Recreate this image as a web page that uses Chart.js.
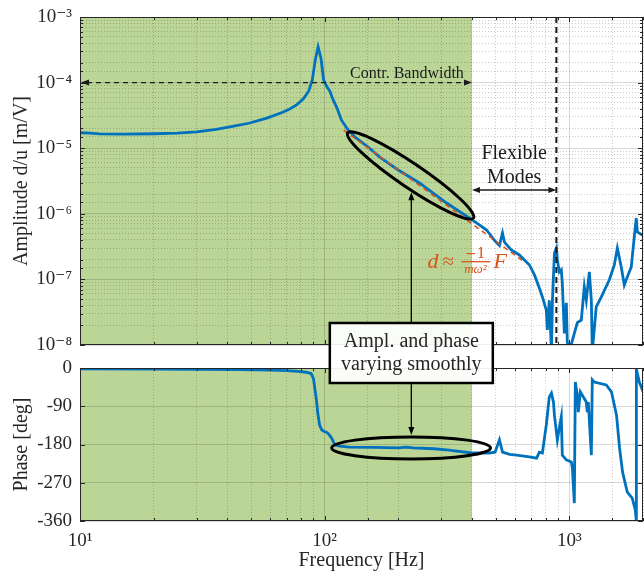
<!DOCTYPE html>
<html><head><meta charset="utf-8">
<script src="https://cdn.jsdelivr.net/npm/chart.js@4.4.1/dist/chart.umd.min.js"></script>
<style>
html,body{margin:0;padding:0;background:#fff;}
#wrap{position:relative;width:644px;height:571px;overflow:hidden;}
#boxA{position:absolute;left:0;top:0;width:644px;height:395px;z-index:2;}
#boxP{position:absolute;left:0;top:352px;width:644px;height:219px;z-index:1;}
</style></head><body>
<div id="wrap">
<div id="boxA"><canvas id="cAmp" width="644" height="395"></canvas></div>
<div id="boxP"><canvas id="cPh" width="644" height="219"></canvas></div>
</div>
<script>
// ---------------- data ----------------
const ampFreq = [10, 11, 12, 15, 20, 25, 30, 36, 42, 49, 58, 67, 72, 77, 82, 86, 89, 91.5, 94, 96.5, 99, 102, 105, 108, 112, 117, 124, 133, 150, 168, 199, 244, 315, 391, 420, 459, 497, 518, 533, 543, 580, 625, 687, 720, 754, 776, 805, 813, 828, 845, 853, 869, 885, 893, 910, 927, 936, 954, 972, 981, 1000, 1048, 1078, 1119, 1151, 1173, 1207, 1230, 1241, 1288, 1351, 1456, 1527, 1571, 1630, 1677, 1725, 1791, 1842, 1877, 1895, 2000];
const ampValue = [1.72e-5, 1.70e-5, 1.65e-5, 1.64e-5, 1.66e-5, 1.70e-5, 1.77e-5, 1.93e-5, 2.15e-5, 2.40e-5, 2.88e-5, 3.5e-5, 3.95e-5, 4.6e-5, 5.7e-5, 7.4e-5, 1.1e-4, 2.2e-4, 3.5e-4, 2.4e-4, 1.1e-4, 8.7e-5, 7.4e-5, 5.6e-5, 4.2e-5, 2.7e-5, 1.95e-5, 1.48e-5, 1.05e-5, 7.3e-6, 4.7e-6, 2.95e-6, 1.46e-6, 8.6e-7, 7.15e-7, 5.66e-7, 3.85e-7, 3.3e-7, 5.1e-7, 3.7e-7, 2.8e-7, 2.36e-7, 1.66e-7, 1.17e-7, 7.4e-8, 5.4e-8, 3.4e-8, 1.7e-8, 4.8e-8, 8e-9, 4.8e-8, 2.5e-7, 3.0e-7, 2.0e-7, 1.3e-7, 1.4e-7, 8.8e-8, 1.5e-8, 4.4e-8, 1.1e-8, 8e-9, 1.5e-8, 2.2e-8, 2.4e-8, 7.7e-8, 4.8e-8, 1.3e-7, 4.8e-8, 8e-9, 3.8e-8, 5.4e-8, 9.8e-8, 1.66e-7, 3.0e-7, 1.55e-7, 8.2e-8, 1.09e-7, 1.55e-7, 4.4e-7, 8.6e-7, 5.3e-7, 4.7e-7];

const phaseFreq = [10, 20, 30, 45, 60, 70, 78, 84, 88, 90, 91, 92.5, 93.7, 95.3, 97.3, 100, 101.8, 104, 106.8, 110, 115, 126, 160, 200, 215, 230, 280, 322, 400, 470, 497, 518, 533, 570, 608, 687, 735, 754, 776, 805, 828, 845, 861, 869, 893, 910, 927, 936, 972, 1019, 1029, 1048, 1058, 1078, 1088, 1109, 1130, 1173, 1184, 1195, 1230, 1241, 1263, 1416, 1486, 1559, 1604, 1650, 1725, 1807, 1860, 1877, 1879, 1932, 2000];
const phaseValue = [-2, -2.5, -3, -4, -5, -6, -8, -10, -13, -25, -45, -75, -106, -134, -146, -150, -151, -156, -165, -181, -184, -186, -187, -188, -186, -188, -190, -193, -200, -200, -198, -169, -198, -203, -205, -209, -212, -198, -200, -134, -68, -59, -80, -111, -169, -141, -115, -205, -216, -221, -235, -318, -33, -64, -104, -56, -64, -80, -104, -80, -205, -28, -33, -40, -56, -111, -188, -245, -292, -306, -334, -358, -2, -33, -55];

// asymptote d ~ -1/(m w^2) F  (two end points)
const asymFreq = [119.6, 655];
const asymValue = [1.89e-5, 1.84e-7];

// axis ranges / ticks
const freqRange = [10, 2000];
const ampRange = [1e-8, 1e-3];
const phaseRange = [-360, 0];
const phaseStep = 90;

// annotation anchors (data coordinates)
const bandwidthHz = 400;
const flexModeHz = 885;
const bandwidthArrowAmp = 1e-4;
const flexArrowAmp = 2.3e-6;
const ampEllipseTips = [[124.2, 1.71e-5], [405.6, 8.63e-7]];
const phaseEllipseTips = [[106.8, -188], [476, -188]];
const pointerHz = 226;
const formulaAnchor = [263, 1.49e-7];

// ---------------- styling helpers ----------------
const SERIF = '"Liberation Serif", "DejaVu Serif", serif';
const BLUE = '#0072BD', ORANGE = '#D95319', GREEN = '#BBD597', INK = '#262626';
const MAJOR_GRID = 'rgba(0,0,0,0.15)', MINOR_GRID = 'rgba(0,0,0,0.2)';
const SUP = {'-':'\u207B','0':'\u2070','1':'\u00B9','2':'\u00B2','3':'\u00B3','4':'\u2074','5':'\u2075','6':'\u2076','7':'\u2077','8':'\u2078','9':'\u2079'};
function isDecade(v){ const l = Math.log10(v); return Math.abs(l - Math.round(l)) < 1e-6; }
function decadeLabel(v){ const e = Math.round(Math.log10(v)); return '10' + String(e).split('').map(c => SUP[c]).join(''); }
const majorColor = c => (c.tick && isDecade(c.tick.value)) ? MAJOR_GRID : 'rgba(0,0,0,0)';
const minorColor = c => (c.tick && !isDecade(c.tick.value)) ? MINOR_GRID : 'rgba(0,0,0,0)';
function noPad(s){ s.paddingLeft = 0; s.paddingRight = 0; s.paddingTop = 0; s.paddingBottom = 0; }

function arrowHead(ctx, x, y, ang, len, w){
  ctx.save(); ctx.translate(x, y); ctx.rotate(ang);
  ctx.beginPath(); ctx.moveTo(0, 0); ctx.lineTo(-len, -w/2); ctx.lineTo(-len, w/2); ctx.closePath(); ctx.fill();
  ctx.restore();
}
function ellipseGeom(p1, p2, b){
  const cx = (p1.x + p2.x)/2, cy = (p1.y + p2.y)/2;
  const a = Math.hypot(p2.x - p1.x, p2.y - p1.y)/2;
  const th = Math.atan2(p2.y - p1.y, p2.x - p1.x);
  return {cx, cy, a, b, th};
}
function ellipseYAt(g, x, lower){
  const dx = x - g.cx, c = Math.cos(g.th), s = Math.sin(g.th);
  const A = s*s/(g.a*g.a) + c*c/(g.b*g.b);
  const B = 2*dx*c*s*(1/(g.a*g.a) - 1/(g.b*g.b));
  const C = dx*dx*(c*c/(g.a*g.a) + s*s/(g.b*g.b)) - 1;
  const d = Math.sqrt(Math.max(0, B*B - 4*A*C));
  return g.cy + (lower ? (-B + d) : (-B - d))/(2*A);
}
function drawEllipse(ctx, g){
  ctx.beginPath(); ctx.ellipse(g.cx, g.cy, g.a, g.b, g.th, 0, 2*Math.PI); ctx.stroke();
}

const greenPlugin = {
  id: 'greenZone',
  beforeDraw(chart){
    const {ctx, chartArea: a, scales: {x}} = chart;
    const xr = x.getPixelForValue(bandwidthHz);
    ctx.save(); ctx.fillStyle = GREEN; ctx.fillRect(a.left, a.top, xr - a.left, a.bottom - a.top); ctx.restore();
  }
};
const framePlugin = {
  id: 'frameTicks',
  afterDatasetsDraw(chart){
    const {ctx, chartArea: a, scales: {x, y}} = chart;
    ctx.save(); ctx.strokeStyle = INK; ctx.lineWidth = 1; ctx.beginPath();
    x.ticks.forEach(t => {
      const px = Math.round(x.getPixelForValue(t.value)) + 0.5;
      const len = isDecade(t.value) ? 5 : 3;
      ctx.moveTo(px, a.bottom); ctx.lineTo(px, a.bottom - len);
      ctx.moveTo(px, a.top); ctx.lineTo(px, a.top + len);
    });
    y.ticks.forEach(t => {
      const py = Math.round(y.getPixelForValue(t.value)) + 0.5;
      const len = (y.type === 'logarithmic' && !isDecade(t.value)) ? 3 : 5;
      ctx.moveTo(a.left, py); ctx.lineTo(a.left + len, py);
      ctx.moveTo(a.right, py); ctx.lineTo(a.right - len, py);
    });
    ctx.stroke();
    ctx.strokeRect(a.left + 0.5, a.top + 0.5, a.right - a.left - 1, a.bottom - a.top - 1);
    ctx.restore();
  }
};

const ampAnno = {
  id: 'ampAnno',
  afterDatasetsDraw(chart){
    const {ctx, chartArea: a, scales: {x, y}} = chart;
    ctx.save();
    ctx.strokeStyle = '#1a1a1a'; ctx.fillStyle = '#1a1a1a';
    // flexible mode limit line
    const xf = x.getPixelForValue(flexModeHz);
    ctx.lineWidth = 2; ctx.setLineDash([6, 4]);
    ctx.beginPath(); ctx.moveTo(xf, a.top); ctx.lineTo(xf, a.bottom); ctx.stroke();
    // bandwidth arrow
    const xb = x.getPixelForValue(bandwidthHz), yb = y.getPixelForValue(bandwidthArrowAmp);
    ctx.lineWidth = 1.4; ctx.setLineDash([5, 4]);
    ctx.beginPath(); ctx.moveTo(a.left + 7, yb); ctx.lineTo(xb - 7, yb); ctx.stroke();
    ctx.setLineDash([]);
    arrowHead(ctx, a.left + 1, yb, Math.PI, 8, 6);
    arrowHead(ctx, xb, yb, 0, 8, 6);
    ctx.font = '16px ' + SERIF; ctx.textAlign = 'center'; ctx.textBaseline = 'alphabetic';
    ctx.fillText('Contr. Bandwidth', xb - 65, yb - 5);
    // flexible modes arrow
    const yfm = y.getPixelForValue(flexArrowAmp);
    ctx.lineWidth = 1.4;
    ctx.beginPath(); ctx.moveTo(xb + 6, yfm); ctx.lineTo(xf - 6, yfm); ctx.stroke();
    arrowHead(ctx, xb, yfm, Math.PI, 8, 6);
    arrowHead(ctx, xf, yfm, 0, 8, 6);
    ctx.font = '20px ' + SERIF;
    ctx.fillText('Flexible', (xb + xf)/2, yfm - 31);
    ctx.fillText('Modes', (xb + xf)/2, yfm - 7);
    // formula
    const fx = x.getPixelForValue(formulaAnchor[0]), fy = y.getPixelForValue(formulaAnchor[1]);
    ctx.fillStyle = ORANGE; ctx.textAlign = 'left';
    ctx.font = 'italic 22px ' + SERIF; ctx.fillText('d', fx, fy);
    ctx.font = '21px ' + SERIF; ctx.fillText('\u2248', fx + 15, fy);
    ctx.fillRect(fx + 34, fy - 7, 29, 1.3);
    ctx.textAlign = 'center';
    ctx.font = '14px "DejaVu Serif", serif'; ctx.fillText('\u22121', fx + 48, fy - 10);
    ctx.font = 'italic 13px ' + SERIF; ctx.fillText('m\u03C9\u00B2', fx + 48, fy + 5);
    ctx.textAlign = 'left'; ctx.font = 'italic 22px ' + SERIF; ctx.fillText('F', fx + 66, fy);
    // ellipse
    ctx.strokeStyle = '#000'; ctx.fillStyle = '#000'; ctx.lineWidth = 3;
    const p1 = {x: x.getPixelForValue(ampEllipseTips[0][0]), y: y.getPixelForValue(ampEllipseTips[0][1])};
    const p2 = {x: x.getPixelForValue(ampEllipseTips[1][0]), y: y.getPixelForValue(ampEllipseTips[1][1])};
    const g = ellipseGeom(p1, p2, 12);
    drawEllipse(ctx, g);
    // pointer arrow + box
    const xa = x.getPixelForValue(pointerHz);
    const yEnd = ellipseYAt(g, xa, true) + 2;
    const boxTop = a.bottom - 22, boxBot = a.bottom + 38, boxW = 163;
    ctx.lineWidth = 1.3;
    ctx.beginPath(); ctx.moveTo(xa, boxTop); ctx.lineTo(xa, yEnd + 7); ctx.stroke();
    arrowHead(ctx, xa, yEnd, -Math.PI/2, 8, 6);
    ctx.fillStyle = 'rgba(255,255,255,0.93)';
    ctx.fillRect(xa - boxW/2, boxTop, boxW, boxBot - boxTop);
    ctx.lineWidth = 2.5; ctx.strokeStyle = '#000';
    ctx.strokeRect(xa - boxW/2, boxTop, boxW, boxBot - boxTop);
    ctx.fillStyle = INK; ctx.textAlign = 'center'; ctx.font = '20px ' + SERIF;
    ctx.fillText('Ampl. and phase', xa, boxTop + 24);
    ctx.fillText('varying smoothly', xa, boxTop + 47);
    ctx.restore();
  }
};

const phaseAnno = {
  id: 'phaseAnno',
  afterDatasetsDraw(chart){
    const {ctx, chartArea: a, scales: {x, y}} = chart;
    ctx.save();
    ctx.strokeStyle = '#000'; ctx.fillStyle = '#000'; ctx.lineWidth = 3;
    const p1 = {x: x.getPixelForValue(phaseEllipseTips[0][0]), y: y.getPixelForValue(phaseEllipseTips[0][1])};
    const p2 = {x: x.getPixelForValue(phaseEllipseTips[1][0]), y: y.getPixelForValue(phaseEllipseTips[1][1])};
    const g = ellipseGeom(p1, p2, 11);
    drawEllipse(ctx, g);
    const xa = x.getPixelForValue(pointerHz);
    const yEnd = ellipseYAt(g, xa, false) - 2;
    const boxBot = 383 - 352;
    ctx.lineWidth = 1.3;
    ctx.beginPath(); ctx.moveTo(xa, boxBot); ctx.lineTo(xa, yEnd - 7); ctx.stroke();
    arrowHead(ctx, xa, yEnd, Math.PI/2, 8, 6);
    ctx.restore();
  }
};

function logX(showLabels){
  return {
    type: 'logarithmic', position: 'bottom', min: freqRange[0], max: freqRange[1],
    ticks: showLabels ? {autoSkip: false, maxRotation: 0, padding: 9, color: INK, font: {family: SERIF, size: 19},
      callback: v => isDecade(v) ? decadeLabel(v) : ''} : {display: false},
    grid: {color: majorColor, drawTicks: false, lineWidth: 1},
    border: {display: false},
    title: showLabels ? {display: true, text: 'Frequency [Hz]', color: INK, font: {family: SERIF, size: 20}, padding: {top: 0, bottom: -2}} : {display: false},
    afterFit(s){ s.height = showLabels ? 50 : 0; noPad(s); }
  };
}
function logXMinor(){
  return {
    type: 'logarithmic', position: 'bottom', min: freqRange[0], max: freqRange[1],
    ticks: {display: false}, grid: {color: minorColor, drawTicks: false, lineWidth: 1},
    border: {display: false, dash: [1, 2]}, afterFit(s){ s.height = 0; noPad(s); }
  };
}

const xy = (xs, ys) => xs.map((v, i) => ({x: v, y: ys[i]}));

new Chart(document.getElementById('cAmp'), {
  type: 'line',
  data: {datasets: [
    {label: 'asymptote', data: xy(asymFreq, asymValue), borderColor: ORANGE, borderWidth: 1.6, borderDash: [5, 4], pointRadius: 0, order: 0, xAxisID: 'x', yAxisID: 'y'},
    {label: 'amplitude', data: xy(ampFreq, ampValue), borderColor: BLUE, borderWidth: 2.8, pointRadius: 0, tension: 0, order: 1, xAxisID: 'x', yAxisID: 'y'}
  ]},
  options: {
    responsive: false, animation: false, devicePixelRatio: 1,
    layout: {padding: {top: 17, right: 1, bottom: 50, left: 0}},
    plugins: {legend: {display: false}, tooltip: {enabled: false}},
    scales: {
      x: logX(false),
      xm: logXMinor(),
      y: {type: 'logarithmic', position: 'left', min: ampRange[0], max: ampRange[1],
        ticks: {autoSkip: false, padding: 8, color: INK, font: {family: SERIF, size: 19}, callback: v => isDecade(v) ? decadeLabel(v) : ''},
        grid: {color: majorColor, drawTicks: false}, border: {display: false},
        title: {display: true, text: 'Amplitude d/u [m/V]', color: INK, font: {family: SERIF, size: 20}, padding: {top: 10, bottom: 0}},
        afterFit(s){ s.width = 80; noPad(s); }},
      ym: {type: 'logarithmic', position: 'left', min: ampRange[0], max: ampRange[1],
        ticks: {display: false}, grid: {color: minorColor, drawTicks: false}, border: {display: false, dash: [1, 2]},
        afterFit(s){ s.width = 0; noPad(s); }}
    }
  },
  plugins: [greenPlugin, framePlugin, ampAnno]
});

new Chart(document.getElementById('cPh'), {
  type: 'line',
  data: {datasets: [
    {label: 'phase', data: xy(phaseFreq, phaseValue), borderColor: BLUE, borderWidth: 2.8, pointRadius: 0, tension: 0, xAxisID: 'x', yAxisID: 'y'}
  ]},
  options: {
    responsive: false, animation: false, devicePixelRatio: 1,
    layout: {padding: {top: 16, right: 1, bottom: 0, left: 0}},
    plugins: {legend: {display: false}, tooltip: {enabled: false}},
    scales: {
      x: logX(true),
      xm: logXMinor(),
      y: {type: 'linear', position: 'left', min: phaseRange[0], max: phaseRange[1],
        ticks: {stepSize: phaseStep, autoSkip: false, padding: 8, color: INK, font: {family: SERIF, size: 19}, callback: v => String(v)},
        grid: {color: MAJOR_GRID, drawTicks: false}, border: {display: false},
        title: {display: true, text: 'Phase [deg]', color: INK, font: {family: SERIF, size: 20}, padding: {top: 10, bottom: 0}},
        afterFit(s){ s.width = 80; noPad(s); }}
    }
  },
  plugins: [greenPlugin, framePlugin, phaseAnno]
});
</script>
</body></html>
